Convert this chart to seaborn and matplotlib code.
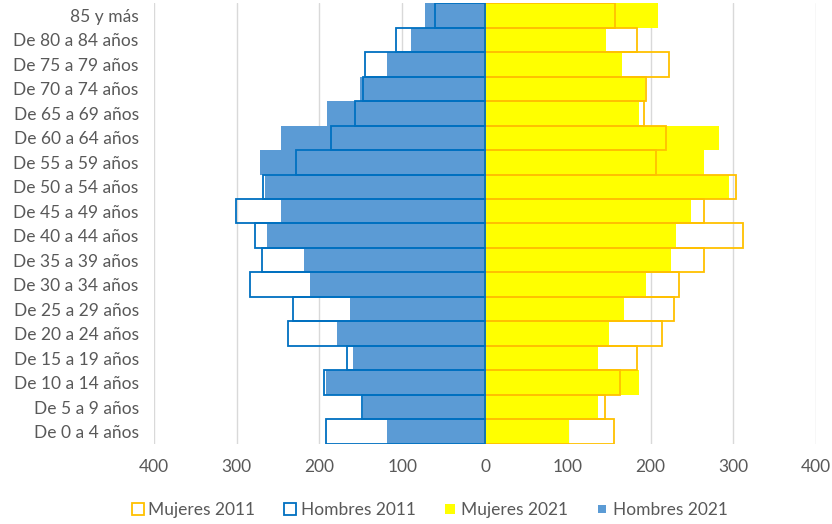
import matplotlib
matplotlib.use("Agg")
import matplotlib.pyplot as plt
from matplotlib.lines import Line2D
from matplotlib.ticker import FuncFormatter
import seaborn as sns
import pandas as pd

edades = ["85 y más", "De 80 a 84 años", "De 75 a 79 años", "De 70 a 74 años",
          "De 65 a 69 años", "De 60 a 64 años", "De 55 a 59 años", "De 50 a 54 años",
          "De 45 a 49 años", "De 40 a 44 años", "De 35 a 39 años", "De 30 a 34 años",
          "De 25 a 29 años", "De 20 a 24 años", "De 15 a 19 años", "De 10 a 14 años",
          "De 5 a 9 años", "De 0 a 4 años"]

hombres_2011 = [61, 107, 145, 147, 157, 186, 228, 268, 301, 278, 270, 284, 232, 238, 167, 194, 149, 192]
hombres_2021 = [72, 90, 118, 151, 191, 247, 272, 266, 247, 263, 219, 211, 163, 179, 160, 192, 148, 118]
mujeres_2011 = [157, 183, 222, 195, 192, 218, 207, 303, 264, 312, 264, 234, 228, 214, 184, 163, 145, 156]
mujeres_2021 = [209, 146, 166, 193, 186, 283, 264, 295, 249, 231, 225, 195, 168, 150, 136, 186, 136, 102]

x_ticks = [-400, -300, -200, -100, 0, 100, 200, 300, 400]

df = pd.DataFrame({
    "edad": edades,
    "h2011": [-v for v in hombres_2011],
    "h2021": [-v for v in hombres_2021],
    "m2011": mujeres_2011,
    "m2021": mujeres_2021,
})

sns.set_theme(style="white")
plt.rcParams["font.family"] = ["Lato", "DejaVu Sans"]
gris = "#595959"
azul = "#5B9BD5"
azul_borde = "#0070C0"
amarillo = "#FFFF00"
naranja = "#FFC000"
fs = 12.5

fig = plt.figure(figsize=(8.32, 5.24), dpi=100)
ax = fig.add_axes([0.185, 0.153, 0.796, 0.841])

# 2021 filled bars first
sns.barplot(data=df, x="m2021", y="edad", orient="h", color=amarillo, width=1.0,
            errorbar=None, linewidth=0, saturation=1, ax=ax)
sns.barplot(data=df, x="h2021", y="edad", orient="h", color=azul, width=1.0,
            errorbar=None, linewidth=0, saturation=1, ax=ax)
# 2011 outlines on top
sns.barplot(data=df, x="m2011", y="edad", orient="h", color=naranja, width=1.0,
            errorbar=None, fill=False, linewidth=1.3, saturation=1, ax=ax)
sns.barplot(data=df, x="h2011", y="edad", orient="h", color=azul_borde, width=1.0,
            errorbar=None, fill=False, linewidth=1.3, saturation=1, ax=ax)

ax.set_xlim(-400, 400)
ax.set_ylim(len(edades) - 0.5, -0.5)
ax.set_xticks(x_ticks)
ax.xaxis.set_major_formatter(FuncFormatter(lambda v, p: f"{abs(int(v))}"))
ax.set_xlabel("")
ax.set_ylabel("")
ax.grid(axis="x", color="#D9D9D9", linewidth=1)
ax.set_axisbelow(True)
for s in ax.spines.values():
    s.set_visible(False)
ax.tick_params(axis="x", length=0, pad=11, labelsize=fs, labelcolor=gris)
ax.tick_params(axis="y", length=0, pad=11, labelsize=fs, labelcolor=gris)

handles = [
    Line2D([], [], marker="s", linestyle="none", markersize=8, markerfacecolor="white",
           markeredgecolor=naranja, markeredgewidth=1.3, label="Mujeres 2011"),
    Line2D([], [], marker="s", linestyle="none", markersize=8, markerfacecolor="white",
           markeredgecolor=azul_borde, markeredgewidth=1.3, label="Hombres 2011"),
    Line2D([], [], marker="s", linestyle="none", markersize=7.5, markerfacecolor=amarillo,
           markeredgewidth=0, label="Mujeres 2021"),
    Line2D([], [], marker="s", linestyle="none", markersize=5.5, markerfacecolor=azul,
           markeredgewidth=0, label="Hombres 2021"),
]
leg = fig.legend(handles=handles, loc="center", bbox_to_anchor=(0.517, 0.027), ncol=4,
                 frameon=False, fontsize=fs, handlelength=0.6, handletextpad=0.3,
                 columnspacing=1.7)
for t in leg.get_texts():
    t.set_color(gris)

fig.savefig("out.png", dpi=100)
